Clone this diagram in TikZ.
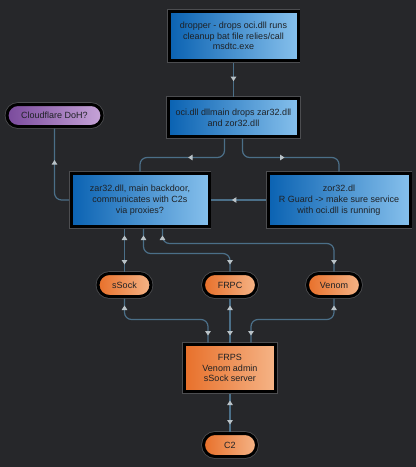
\documentclass[tikz,border=0pt]{standalone}
\usepackage{fontspec}
\setmainfont{Liberation Sans}
\usepackage{xcolor}
\usepackage{tikz}
\usetikzlibrary{positioning, arrows.meta, decorations.markings}

\definecolor{bgdark}{HTML}{26272A}
\definecolor{rimgrey}{HTML}{4C4D50}
\definecolor{blueL}{HTML}{0A62B2}
\definecolor{blueR}{HTML}{86C0EC}
\definecolor{orangeL}{HTML}{E8702A}
\definecolor{orangeR}{HTML}{F5B487}
\definecolor{purpleL}{HTML}{7A4A9C}
\definecolor{purpleR}{HTML}{C6A4D8}
\definecolor{wireblue}{HTML}{4B6F88}
\definecolor{tipgrey}{HTML}{B9C2C7}
\definecolor{inkdark}{HTML}{1E2125}

\begin{document}
\begin{tikzpicture}[>={Triangle[length=4.5pt, width=5.5pt, color=tipgrey]},
    box/.style={rectangle, draw=black, line width=3pt, outer sep=2pt,
        preaction={draw=rimgrey, line width=4.6pt},
        text=inkdark, font=\fontsize{9}{10.7}\selectfont, align=center, inner sep=2pt},
    bluebox/.style={box, left color=blueL, right color=blueR},
    orangebox/.style={box, left color=orangeL, right color=orangeR},
    pill/.style={box, rounded corners=11.5pt, minimum width=53pt, minimum height=23pt,
        left color=orangeL, right color=orangeR},
    link/.style={draw=wireblue, line width=1.2pt, rounded corners=7pt},
    mid/.style={postaction={decorate}, decoration={markings, mark=at position #1 with {\arrow{>}}}},
    twoway/.style={postaction={decorate}, decoration={markings,
        mark=at position 7pt with {\arrowreversed{>}},
        mark=at position -7pt with {\arrow{>}}}}]
                \useasboundingbox[fill=bgdark] (0,0) rectangle (416pt,-467pt);

                \node[bluebox, minimum width=129pt, minimum height=49pt] (dropper) at (233.5pt,-36pt) {dropper - drops oci.dll runs\\cleanup bat file relies/call\\msdtc.exe};
                \node[bluebox, minimum width=130pt, minimum height=38pt] (oci) [below=34pt of dropper] {oci.dll dllmain drops zar32.dll\\and zor32.dll};
                \node[bluebox, minimum width=138pt, minimum height=53pt] (zar) [below=33pt of oci, xshift=-93.5pt] {zar32.dll, main backdoor,\\communicates with C2s\\via proxies?};
                \node[bluebox, minimum width=142pt, minimum height=53pt] (zor) [right=55pt of zar] {zor32.dl\\R Guard -> make sure service\\with oci.dll is running};
                \node[box, rounded corners=11pt, left color=purpleL, right color=purpleR, minimum width=95pt, minimum height=22pt] (doh) [above=43pt of zar, xshift=-85.5pt] {Cloudflare DoH?};

                \node[pill] (sSock) [below=43pt of zar, xshift=-15.5pt] {sSock};
                \node[pill] (FRPC) [right=48.5pt of sSock] {FRPC};
                \node[pill] (Venom) [right=47pt of FRPC] {Venom};
                \node[orangebox, minimum width=91pt, minimum height=47pt] (FRPS) [below=44pt of FRPC] {FRPS\\Venom admin\\sSock server};
                \node[pill] (C2) [below=38pt of FRPS] {C2};

                % top part
                \draw[link, mid=0.55] (dropper) -- (oci);
                \draw[link, mid=0.47] ([xshift=-9pt]oci.south) -- ++(0,-19pt) -| (zar.north);
                \draw[link, mid=0.47] ([xshift=9pt]oci.south) -- ++(0,-19pt) -| (zor.north);
                \draw[link, mid=0.62] (zor.west) -- (zar.east);
                \draw[link, mid=0.62] (zar.west) -| (doh.south);

                % proxies
                \draw[link, twoway] (zar.south -| sSock.north) -- (sSock.north);
                \draw[link, twoway] ([xshift=3.5pt]zar.south) -- ++(0,-25pt) -| (FRPC.north);
                \draw[link, twoway] ([xshift=22.5pt]zar.south) -- ++(0,-15pt) -| (Venom.north);
                \draw[link, twoway] (sSock.south) -- ++(0,-21pt) -| ([xshift=-22pt]FRPS.north);
                \draw[link, twoway] (FRPC.south) -- (FRPC.south |- FRPS.north);
                \draw[link, twoway] (Venom.south) -- ++(0,-21pt) -| ([xshift=21pt]FRPS.north);
                \draw[link, twoway] (FRPS) -- (C2);
\end{tikzpicture}
\end{document}
